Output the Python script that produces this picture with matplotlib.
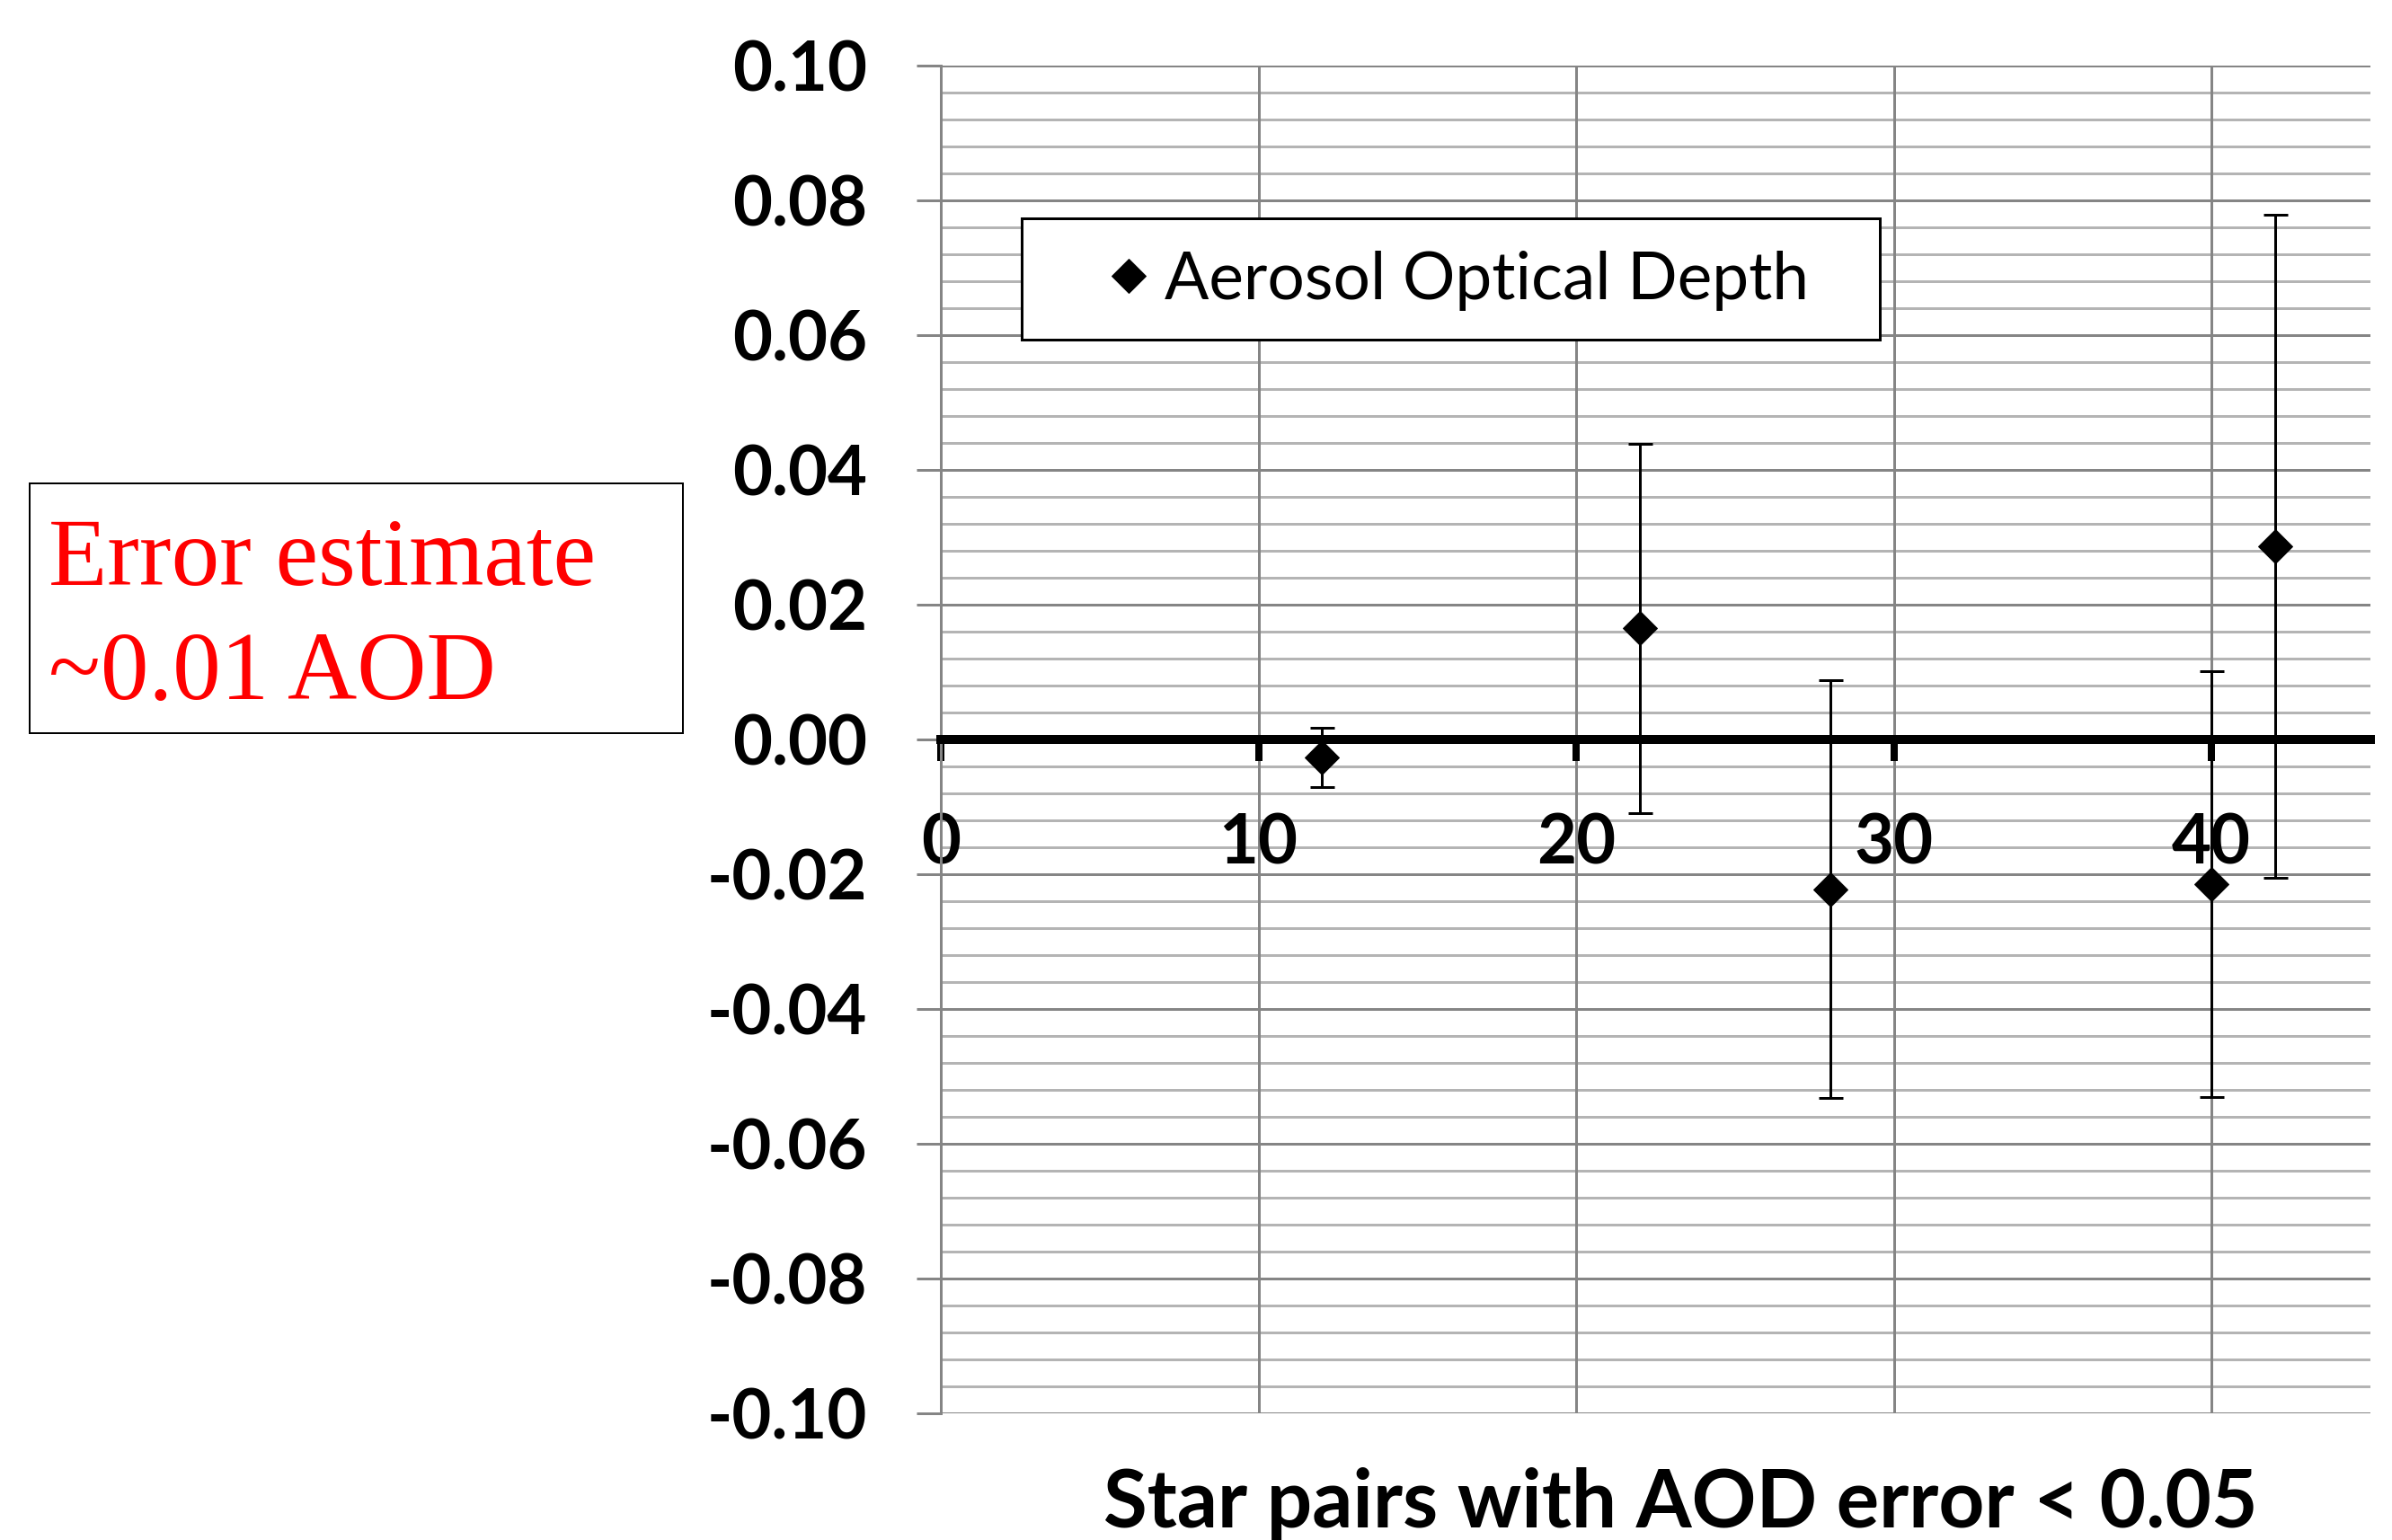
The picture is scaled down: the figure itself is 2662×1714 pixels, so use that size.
import matplotlib
matplotlib.use("Agg")
import matplotlib.pyplot as plt
from matplotlib.patches import Rectangle
from matplotlib.ticker import MultipleLocator

# star pairs vs. AOD difference, with error bars
pair_count = [12, 22, 28, 40, 42]
aod_diff = [-0.0026, 0.0165, -0.0222, -0.0214, 0.0287]
aod_err = [0.0044, 0.0274, 0.0310, 0.0316, 0.0492]

x_ticks = [0, 10, 20, 30, 40]
y_ticks = [-0.10, -0.08, -0.06, -0.04, -0.02, 0.00, 0.02, 0.04, 0.06, 0.08, 0.10]
y_labels = ["-0.10", "-0.08", "-0.06", "-0.04", "-0.02", "0.00",
            "0.02", "0.04", "0.06", "0.08", "0.10"]

plt.rcParams['font.family'] = ['Lato', 'DejaVu Sans']

W, H = 2662, 1714
fig = plt.figure(figsize=(W / 72, H / 72), dpi=72)
ax = fig.add_axes([1047 / W, 1 - 1573 / H, (2638 - 1047) / W, (1573 - 73) / H])

# spine position first: moving it resets the tick settings
ax.spines['top'].set_visible(False)
ax.spines['right'].set_visible(False)
ax.spines['left'].set_color('#858585')
ax.spines['left'].set_linewidth(3)
ax.spines['bottom'].set_position(('data', 0))
ax.spines['bottom'].set_color('black')
ax.spines['bottom'].set_linewidth(10)
ax.spines['bottom'].set_zorder(3)

ax.set_xlim(0, 45)
ax.set_ylim(-0.10, 0.10)
ax.set_xticks(x_ticks)
ax.set_xticklabels([str(t) for t in x_ticks], fontsize=76, fontweight='bold')
ax.set_yticks(y_ticks)
ax.set_yticklabels(y_labels, fontsize=76, fontweight='bold')
ax.yaxis.set_minor_locator(MultipleLocator(0.004))

ax.set_axisbelow(True)
ax.grid(which='major', axis='y', color='#858585', lw=3)
ax.grid(which='minor', axis='y', color='#b4b4b4', lw=3)
ax.grid(which='major', axis='x', color='#858585', lw=3)
# x labels must sit on top of the horizontal grid
ax.xaxis.set_zorder(1)

ax.tick_params(axis='x', which='major', direction='out', length=24, width=8,
               color='black', pad=57)
ax.tick_params(axis='y', which='major', direction='out', length=27, width=3,
               color='#858585', pad=55)
ax.tick_params(axis='y', which='minor', length=0)

ax.errorbar(pair_count, aod_diff, yerr=aod_err, fmt='none', ecolor='black',
            elinewidth=3, capsize=13.5, capthick=3, zorder=4)
ax.plot(pair_count, aod_diff, 'D', color='black', ms=27, ls='none',
        label='Aerosol Optical Depth', zorder=5)

# legend frame drawn by hand so the padding matches
fig.patches.append(Rectangle((1137 / W, 1 - 378 / H), (2092 - 1137) / W, 135 / H,
                             transform=fig.transFigure, facecolor='white',
                             edgecolor='black', lw=3, zorder=6))
leg = ax.legend(loc='center left', bbox_to_anchor=(1219 / W, 1 - 312 / H),
                bbox_transform=fig.transFigure, fontsize=73, frameon=False,
                borderpad=0, handlelength=1.0, handletextpad=0.06,
                borderaxespad=0)
leg.set_zorder(7)
fig.legends.append(leg)
ax.get_legend().remove()

# red annotation box on the left
fig.patches.append(Rectangle((33 / W, 1 - 816 / H), 727 / W, 278 / H,
                             transform=fig.transFigure, fill=False,
                             edgecolor='black', lw=2))
fig.text(54 / W, 1 - 651 / H, "Error estimate", family='Liberation Serif',
         fontsize=107, color='red', va='baseline')
fig.text(54 / W, 1 - 778 / H, "~0.01 AOD", family='Liberation Serif',
         fontsize=107, color='red', va='baseline')

fig.text(1870 / W, 14 / H, "Star pairs with AOD error < 0.05", ha='center',
         va='baseline', fontsize=89, fontweight='bold')

fig.savefig('out.png', dpi=72)
